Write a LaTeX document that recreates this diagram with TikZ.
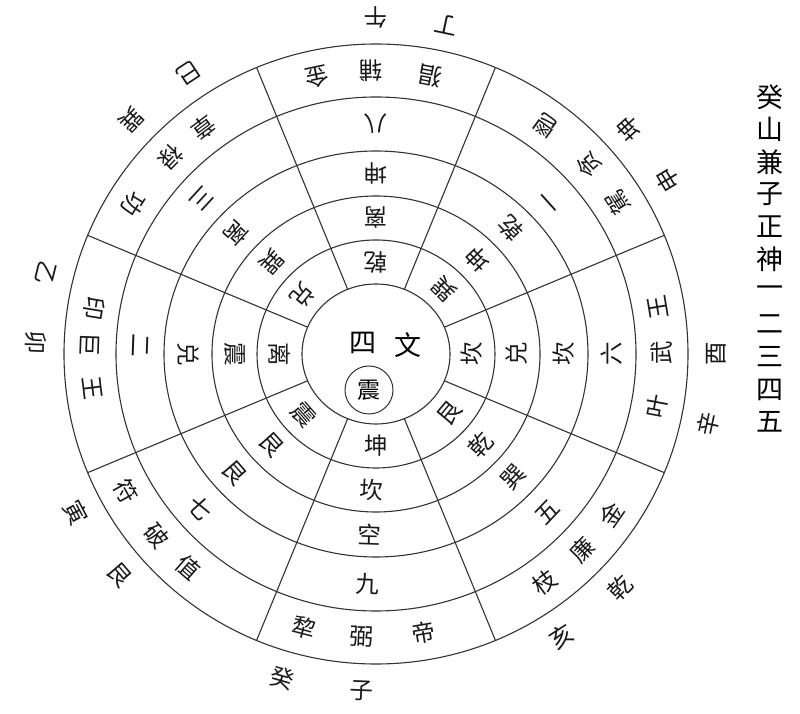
\documentclass[tikz,border=0pt]{standalone}
\usepackage{fontspec}
\setmainfont{Noto Sans CJK SC}
\newcount\cnum
\newcommand\rc[4]{\global\advance\cnum by 1\relax
  \node[ch,rotate={#1+90}] (r\the\cnum) at (#1:#2 and #3) {#4};}
\tikzset{
  ring/.style={draw=black!80, line width=1.1pt},
  ch/.style={font=\fontsize{23.5}{23.5}\selectfont, inner sep=0pt, text=black!90},
  big/.style={font=\fontsize{27}{27}\selectfont, inner sep=0pt}
}
\begin{document}
\begin{tikzpicture}[x=1pt,y=1pt]
\useasboundingbox (-376,-360) rectangle (424,354);
\fill[white] (-376,-360) rectangle (424,354);
% rings
\foreach \a/\b in {74/70,119/114,164/158,212/203,260/257,312/310}
  \draw[ring] (0,0) ellipse [x radius=\a, y radius=\b];
\foreach \t in {22.5,67.5,...,337.5}
  \draw[ring] (\t:74 and 70) -- (\t:312 and 310);
% centre
\node[big] (si) at (-13,11) {四};
\node[big] (wen) at (32,9) {文};
\node[draw=black!80, line width=1pt, circle, minimum size=48pt, inner sep=0pt, font=\fontsize{23}{23}\selectfont] (zhen) at (-7,-36) {震};
% S
\rc{90}{96}{92}{乾} \rc{90}{141}{136}{离} \rc{90}{188}{181}{坤} \rc{90}{236}{230}{八}
\rc{79}{286}{283}{猖} \rc{91}{286}{283}{辅} \rc{102}{286}{283}{金}
\rc{90}{340}{337}{午} \rc{78}{340}{337}{丁}
% SW
\rc{45}{96}{92}{巽} \rc{44}{141}{136}{坤} \rc{44}{188}{181}{乾} \rc{42}{236}{230}{一}
\rc{32.5}{286}{283}{駕} \rc{42}{286}{283}{贪} \rc{53.6}{286}{283}{鬯}
\rc{42}{340}{337}{坤} \rc{31}{340}{337}{申}
% W
\rc{0}{96}{92}{坎} \rc{0}{141}{136}{兑} \rc{0}{188}{181}{坎} \rc{0}{236}{230}{六}
\rc{-10.7}{286}{283}{叶} \rc{0.2}{286}{283}{武} \rc{9.5}{286}{283}{王}
\rc{0}{340}{337}{酉} \rc{-12}{340}{337}{辛}
% NW
\rc{-40}{96}{92}{艮} \rc{-42}{141}{136}{乾} \rc{-43}{188}{181}{巽} \rc{-43.5}{236}{230}{五}
\rc{-53.8}{286}{283}{枝} \rc{-43.9}{286}{283}{廉} \rc{-34.6}{286}{283}{金}
\rc{-44}{340}{337}{乾} \rc{-57}{340}{337}{亥}
% N
\rc{-90}{96}{92}{坤} \rc{-92}{141}{136}{坎} \rc{-92}{188}{181}{空} \rc{-92}{236}{230}{九}
\rc{-104.5}{286}{283}{犂} \rc{-92.9}{286}{283}{弼} \rc{-80.4}{286}{283}{帝}
\rc{-92.4}{340}{337}{子} \rc{-106}{340}{337}{癸}
% NE
\rc{-139}{96}{92}{震} \rc{-138}{141}{136}{艮} \rc{-139}{188}{181}{艮} \rc{-138}{236}{230}{七}
\rc{-151}{286}{283}{符} \rc{-140}{286}{283}{破} \rc{-131}{286}{283}{值}
\rc{-139}{340}{337}{艮} \rc{-152}{340}{337}{寅}
% E
\rc{180}{96}{92}{离} \rc{180}{141}{136}{震} \rc{180}{188}{181}{兑} \rc{178}{236}{230}{二}
\rc{170.7}{286}{283}{印} \rc{178}{286}{283}{巨} \rc{187}{286}{283}{王}
\rc{178}{340}{337}{卯} \rc{166}{340}{337}{乙}
% SE
\rc{140}{96}{92}{兑} \rc{137.5}{141}{136}{巽} \rc{138}{188}{181}{离} \rc{137.5}{236}{230}{三}
\rc{127}{286}{283}{章} \rc{136}{286}{283}{禄} \rc{148}{286}{283}{功}
\rc{136}{340}{337}{巽} \rc{123.5}{340}{337}{巳}
% right column
\foreach \c [count=\i] in {癸,山,兼,子,正,神,一,二,三,四,五}
  \node[font=\fontsize{27}{27}\selectfont, inner sep=0pt] (t\i) at (394,{257-32.5*(\i-1)}) {\c};
\end{tikzpicture}
\end{document}
